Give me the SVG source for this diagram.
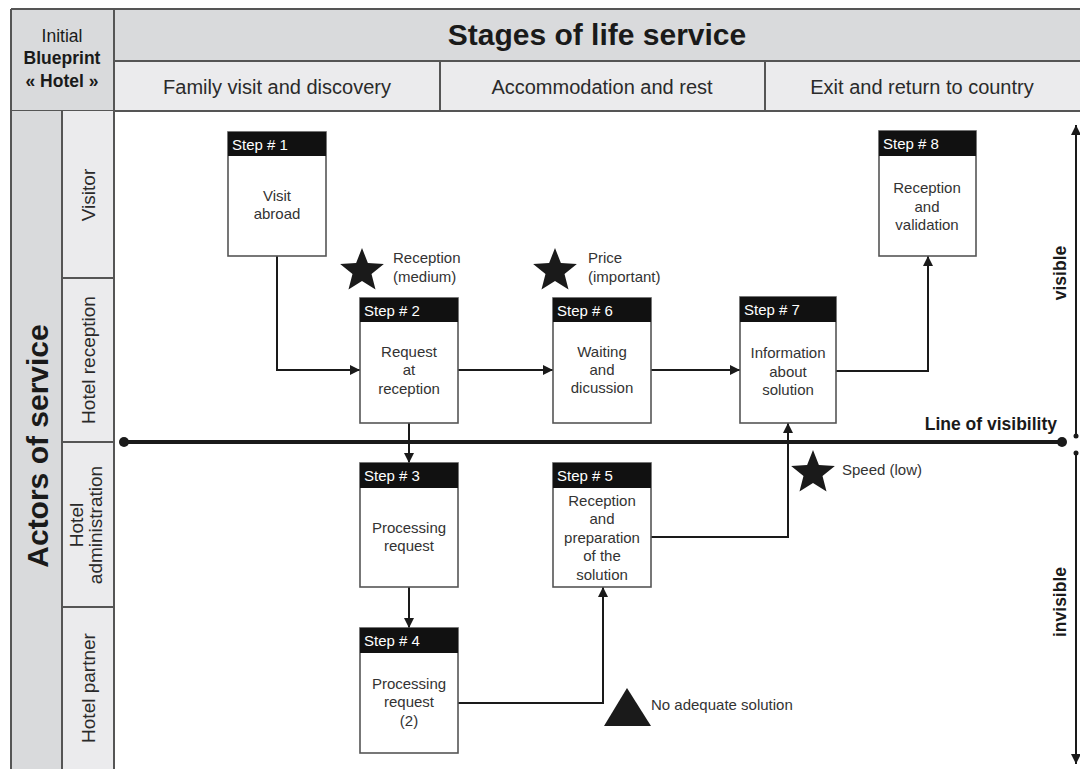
<svg xmlns="http://www.w3.org/2000/svg" width="1080" height="769" viewBox="0 0 1080 769">
<style>
text{font-family:"Liberation Sans",Arial,sans-serif;fill:#2a2a2a}
.frame{stroke:#555;stroke-width:2}
.hd1{fill:#d9dadc}
.hd2{fill:#ebebed}
.title{font-size:30px;font-weight:bold;fill:#1a1a1a}
.stage{font-size:20px;text-anchor:middle}
.tl{font-size:17.5px;text-anchor:middle;fill:#1a1a1a}
.lane{font-size:19px;text-anchor:middle}
.box{fill:#fff;stroke:#555;stroke-width:1.6}
.bar{fill:#111}
.sh{font-size:15px;fill:#fff}
.st{font-size:15px;text-anchor:middle;fill:#333}
.note{font-size:15px;fill:#333}
.conn{fill:none;stroke:#1a1a1a;stroke-width:2}
.bold{font-weight:bold;fill:#1a1a1a}
</style>
<defs>
<marker id="arr" markerUnits="userSpaceOnUse" markerWidth="11" markerHeight="11" refX="10" refY="5" orient="auto">
<path d="M0,0 L10,5 L0,10 z" fill="#1a1a1a"/>
</marker>
<polygon id="star" points="0,-23 5.88,-8.09 21.87,-7.11 9.51,3.09 13.52,18.61 0,10 -13.52,18.61 -9.51,3.09 -21.87,-7.11 -5.88,-8.09" fill="#1a1a1a"/>
</defs>
<rect width="1080" height="769" fill="#fff"/>
<g id="header">
<rect class="hd1" x="11" y="9" width="1069" height="52"/>
<rect class="hd2" x="114" y="61" width="966" height="50"/>
<rect class="hd1" x="11" y="9" width="103" height="102"/>
<path class="frame" fill="none" d="M11,9 H1080 M114,61 H1080 M11,111 H1080 M11,9 V769 M114,9 V769 M440,61 V111 M765,61 V111"/>
<text class="tl" x="62" y="42">Initial</text>
<text class="tl bold" x="62" y="64">Blueprint</text>
<text class="tl bold" x="62" y="87">« Hotel »</text>
<text class="title" x="597" y="45" text-anchor="middle">Stages of life service</text>
<text class="stage" x="277" y="94">Family visit and discovery</text>
<text class="stage" x="602" y="94">Accommodation and rest</text>
<text class="stage" x="922" y="94">Exit and return to country</text>
</g>
<g id="actors">
<rect class="hd1" x="11" y="111" width="51" height="658"/>
<rect class="hd2" x="62" y="111" width="52" height="658"/>
<path class="frame" fill="none" d="M11,111 V769 M62,111 V769 M114,111 V769 M62,278 H114 M62,442 H114 M62,607 H114"/>
<text class="title" transform="translate(48,446) rotate(-90)" text-anchor="middle">Actors of service</text>
<text class="lane" transform="translate(95,195) rotate(-90)">Visitor</text>
<text class="lane" transform="translate(95,360) rotate(-90)">Hotel reception</text>
<text class="lane" transform="translate(83,525) rotate(-90)">Hotel</text>
<text class="lane" transform="translate(102,525) rotate(-90)">administration</text>
<text class="lane" transform="translate(95,688) rotate(-90)">Hotel partner</text>
</g>
<g id="visibility">
<line x1="124" y1="442" x2="1062" y2="442" stroke="#1a1a1a" stroke-width="4"/>
<circle cx="124" cy="442" r="5" fill="#1a1a1a"/>
<circle cx="1062" cy="442" r="5" fill="#1a1a1a"/>
<text class="bold" x="1057" y="430" font-size="17.5" text-anchor="end">Line of visibility</text>
<line x1="1076" y1="436" x2="1076" y2="125" class="conn" marker-end="url(#arr)"/>
<circle cx="1076" cy="436" r="2.5" fill="#1a1a1a"/>
<line x1="1076" y1="453" x2="1076" y2="764" class="conn" marker-end="url(#arr)"/>
<circle cx="1076" cy="453" r="2.5" fill="#1a1a1a"/>
<text class="bold" font-size="17.5" text-anchor="middle" transform="translate(1066,273) rotate(-90)">visible</text>
<text class="bold" font-size="17.5" text-anchor="middle" transform="translate(1066,602) rotate(-90)">invisible</text>
</g>
<g id="connectors">
<path class="conn" d="M277,256 V370 H360" marker-end="url(#arr)"/>
<path class="conn" d="M458,370 H553" marker-end="url(#arr)"/>
<path class="conn" d="M651,370 H740" marker-end="url(#arr)"/>
<path class="conn" d="M836,371 H928 V256" marker-end="url(#arr)"/>
<path class="conn" d="M409,423 V463" marker-end="url(#arr)"/>
<path class="conn" d="M409,587 V628" marker-end="url(#arr)"/>
<path class="conn" d="M458,703 H603 V587" marker-end="url(#arr)"/>
<path class="conn" d="M651,537 H788 V423" marker-end="url(#arr)"/>
</g>
<g id="step1">
<rect class="box" x="228" y="132" width="98" height="124"/>
<rect class="bar" x="228" y="132" width="98" height="24"/>
<text class="sh" x="232" y="150">Step # 1</text>
<text class="st" x="277" y="201">Visit</text>
<text class="st" x="277" y="219">abroad</text>
</g>
<g id="step2">
<rect class="box" x="360" y="298" width="98" height="125"/>
<rect class="bar" x="360" y="298" width="98" height="24"/>
<text class="sh" x="364" y="316">Step # 2</text>
<text class="st" x="409" y="357">Request</text>
<text class="st" x="409" y="375">at</text>
<text class="st" x="409" y="394">reception</text>
</g>
<g id="step3">
<rect class="box" x="360" y="463" width="98" height="124"/>
<rect class="bar" x="360" y="463" width="98" height="25"/>
<text class="sh" x="364" y="481">Step # 3</text>
<text class="st" x="409" y="533">Processing</text>
<text class="st" x="409" y="551">request</text>
</g>
<g id="step4">
<rect class="box" x="360" y="628" width="98" height="125"/>
<rect class="bar" x="360" y="628" width="98" height="25"/>
<text class="sh" x="364" y="646">Step # 4</text>
<text class="st" x="409" y="689">Processing</text>
<text class="st" x="409" y="707">request</text>
<text class="st" x="409" y="726">(2)</text>
</g>
<g id="step5">
<rect class="box" x="553" y="463" width="98" height="124"/>
<rect class="bar" x="553" y="463" width="98" height="25"/>
<text class="sh" x="557" y="481">Step # 5</text>
<text class="st" x="602" y="506">Reception</text>
<text class="st" x="602" y="524">and</text>
<text class="st" x="602" y="543">preparation</text>
<text class="st" x="602" y="561">of the</text>
<text class="st" x="602" y="580">solution</text>
</g>
<g id="step6">
<rect class="box" x="553" y="298" width="98" height="125"/>
<rect class="bar" x="553" y="298" width="98" height="24"/>
<text class="sh" x="557" y="316">Step # 6</text>
<text class="st" x="602" y="357">Waiting</text>
<text class="st" x="602" y="375">and</text>
<text class="st" x="602" y="393">dicussion</text>
</g>
<g id="step7">
<rect class="box" x="740" y="297" width="96" height="126"/>
<rect class="bar" x="740" y="297" width="96" height="25"/>
<text class="sh" x="744" y="315">Step # 7</text>
<text class="st" x="788" y="358">Information</text>
<text class="st" x="788" y="377">about</text>
<text class="st" x="788" y="395">solution</text>
</g>
<g id="step8">
<rect class="box" x="879" y="131" width="97" height="125"/>
<rect class="bar" x="879" y="131" width="97" height="25"/>
<text class="sh" x="883" y="149">Step # 8</text>
<text class="st" x="927" y="193">Reception</text>
<text class="st" x="927" y="212">and</text>
<text class="st" x="927" y="230">validation</text>
</g>
<g id="note-reception">
<use href="#star" transform="translate(362,271)"/>
<text class="note" x="393" y="263">Reception</text>
<text class="note" x="393" y="282">(medium)</text>
</g>
<g id="note-price">
<use href="#star" transform="translate(555,271)"/>
<text class="note" x="588" y="263">Price</text>
<text class="note" x="588" y="282">(important)</text>
</g>
<g id="note-speed">
<use href="#star" transform="translate(813,473)"/>
<text class="note" x="842" y="475">Speed (low)</text>
</g>
<g id="note-solution">
<polygon points="627,688 651,726 604,726" fill="#1a1a1a"/>
<text class="note" x="651" y="710">No adequate solution</text>
</g>
</svg>
